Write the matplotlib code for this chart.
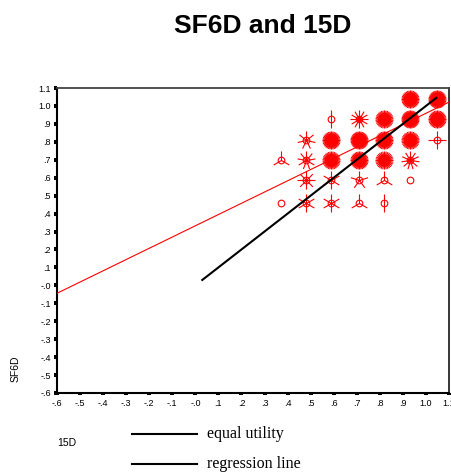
import numpy as np
import matplotlib
matplotlib.use("Agg")
import matplotlib.pyplot as plt
from matplotlib.path import Path
from matplotlib.lines import Line2D

# 15D / SF6D grid values and number of cases at each grid point (sunflower counts)
x_vals = [0.37, 0.48, 0.59, 0.71, 0.82, 0.93, 1.05]
y_vals = [0.46, 0.59, 0.70, 0.81, 0.93, 1.04]
counts = [
    [1, 6, 6, 3, 2, 0, 0],       # SF6D .46
    [0, 8, 6, 5, 3, 1, 0],       # SF6D .59
    [3, 9, 34, 36, 32, 11, 0],   # SF6D .70
    [0, 7, 36, 38, 36, 34, 4],   # SF6D .81
    [0, 0, 2, 12, 34, 38, 36],   # SF6D .93
    [0, 0, 0, 0, 0, 36, 38],     # SF6D 1.04
]

# fitted regression line and equal utility line (SF6D = 15D)
reg_intercept = 0.332
reg_slope = 0.627
equal_from, equal_to = 0.03, 1.045

ticks = [-0.6, -0.5, -0.4, -0.3, -0.2, -0.1, 0.0, 0.1, 0.2, 0.3, 0.4, 0.5,
         0.6, 0.7, 0.8, 0.9, 1.0, 1.1]
tick_labels = ["-.6", "-.5", "-.4", "-.3", "-.2", "-.1", "-.0", ".1", ".2", ".3",
               ".4", ".5", ".6", ".7", ".8", ".9", "1.0", "1.1"]

plt.rcParams["font.family"] = "Liberation Sans"


def petals(n):
    # one line per case, first petal straight up
    verts, codes = [], []
    for a in np.pi / 2 + 2 * np.pi * np.arange(n) / n:
        verts += [(0, 0), (np.cos(a), np.sin(a))]
        codes += [Path.MOVETO, Path.LINETO]
    return Path(verts, codes)


fig = plt.figure(figsize=(4.52, 4.72), dpi=100)
ax = fig.add_axes([57 / 452, 1 - 393 / 472, (449 - 57) / 452, (393 - 88) / 472])

for j, y in enumerate(y_vals):
    for i, x in enumerate(x_vals):
        n = counts[j][i]
        if n == 0:
            continue
        if n > 1:
            ax.plot([x], [y], ls="none", marker=petals(n), ms=13,
                    mec="red", mew=0.8, zorder=2)
        ax.plot([x], [y], ls="none", marker="o", ms=4.8, mfc="none",
                mec="red", mew=0.8, zorder=3)

xs = np.array([-0.6, 1.1])
ax.plot(xs, reg_intercept + reg_slope * xs, color="red", lw=0.8, zorder=4)
ax.plot([equal_from, equal_to], [equal_from, equal_to], color="black", lw=1.5,
        zorder=5)

ax.set_xlim(-0.6, 1.1)
ax.set_ylim(-0.6, 1.1)
ax.set_xticks(ticks)
ax.set_xticklabels(tick_labels)
ax.set_yticks(ticks)
ax.set_yticklabels(tick_labels)
ax.tick_params(axis="x", direction="out", length=1.6, width=2.9, pad=3,
               labelsize=6.5)
ax.tick_params(axis="y", direction="out", length=2.4, width=2.9, pad=2,
               labelsize=6.5)
for side in ["left", "bottom"]:
    ax.spines[side].set_linewidth(1.5)
ax.spines["right"].set_linewidth(1.1)
ax.spines["top"].set_linewidth(1.3)
ax.spines["top"].set_color("#444444")

fig.text(263 / 452, 1 - 33 / 472, "SF6D and 15D", ha="center", va="baseline",
         fontsize=19, fontweight="bold")
fig.text(16 / 452, 1 - 369 / 472, "SF6D", rotation=90, ha="center",
         va="center", fontsize=7.5)
fig.text(57 / 452, 1 - 446.5 / 472, "15D", ha="left", va="baseline",
         fontsize=7.5)

# legend entries drawn in figure space
for y_line, y_text, label in [(434, 438.3, "equal utility"),
                              (464, 468.3, "regression line")]:
    fig.add_artist(Line2D([132 / 452, 197 / 452], [1 - y_line / 472] * 2,
                          color="black", lw=1.5))
    fig.text(207 / 452, 1 - y_text / 472, label, ha="left", va="baseline",
             fontsize=11.5, family="Liberation Serif")

fig.savefig("out.png", dpi=100)
